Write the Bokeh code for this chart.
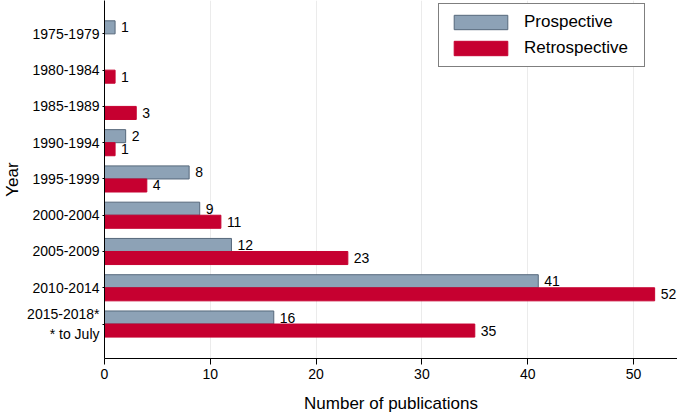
from bokeh.plotting import figure
from bokeh.models import (ColumnDataSource, Range1d, FixedTicker, LabelSet,
                          Legend, LegendItem)
from bokeh.core.properties import value
from bokeh.embed import file_html
from bokeh.resources import INLINE

# ---- data ----
periods = ["1975-1979", "1980-1984", "1985-1989", "1990-1994", "1995-1999",
           "2000-2004", "2005-2009", "2010-2014", "2015-2018*\n* to July"]
prospective = [1, 0, 0, 2, 8, 9, 12, 41, 16]
retrospective = [0, 1, 3, 1, 4, 11, 23, 52, 35]
x_ticks = [0, 10, 20, 30, 40, 50]

FONT = "Liberation Sans"
GRAY = "#8da2b6"
GRAY_EDGE = "#56687b"
RED = "#c60030"

pos = list(range(len(periods)))
off = 0.18
bh = 0.36

pro = dict(y=[p - off for p, v in zip(pos, prospective) if v > 0],
           x=[v for v in prospective if v > 0])
pro["t"] = [str(v) for v in pro["x"]]
ret = dict(y=[p + off for p, v in zip(pos, retrospective) if v > 0],
           x=[v for v in retrospective if v > 0])
ret["t"] = [str(v) for v in ret["x"]]
src_p = ColumnDataSource(pro)
src_r = ColumnDataSource(ret)

p = figure(width=677, height=415, output_backend="svg", toolbar_location=None,
           x_range=Range1d(0, 54.16), y_range=Range1d(8.95, -0.92),
           min_border_top=0, min_border_right=0, min_border_bottom=40,
           min_border_left=10)
p.outline_line_color = None
p.background_fill_color = "white"

r1 = p.hbar(y="y", right="x", left=0, height=bh, source=src_p,
            fill_color=GRAY, line_color=GRAY_EDGE, line_width=1)
r2 = p.hbar(y="y", right="x", left=0, height=bh, source=src_r,
            fill_color=RED, line_color=RED, line_width=1)

for src in (src_p, src_r):
    p.add_layout(LabelSet(x="x", y="y", text="t", source=src, x_offset=6,
                          text_baseline="middle", text_font=value(FONT),
                          text_font_size=value("14px"), text_color="black"))

# axes
p.xaxis.ticker = FixedTicker(ticks=x_ticks)
p.xaxis.axis_label = "Number of publications"
p.xaxis.axis_label_text_font = FONT
p.xaxis.axis_label_text_font_size = "17px"
p.xaxis.axis_label_text_font_style = "normal"
p.xaxis.axis_label_text_color = "black"
p.xaxis.axis_label_standoff = 12
p.xaxis.major_label_text_font = FONT
p.xaxis.major_label_text_font_size = "14px"
p.xaxis.major_label_text_color = "black"
p.xaxis.major_label_standoff = 4
p.xaxis.major_tick_out = 6
p.xaxis.major_tick_in = 0
p.xaxis.minor_tick_out = 0
p.xaxis.minor_tick_in = 0
p.xaxis.axis_line_color = "black"
p.xaxis.major_tick_line_color = "black"

p.yaxis.ticker = FixedTicker(ticks=pos)
p.yaxis.major_label_overrides = {i: s for i, s in zip(pos, periods)}
p.yaxis.axis_label = "Year"
p.yaxis.axis_label_text_font = FONT
p.yaxis.axis_label_text_font_size = "17px"
p.yaxis.axis_label_text_font_style = "normal"
p.yaxis.axis_label_text_color = "black"
p.yaxis.axis_label_standoff = 2
p.yaxis.major_label_text_font = FONT
p.yaxis.major_label_text_font_size = "14px"
p.yaxis.major_label_text_color = "black"
p.yaxis.major_label_standoff = 3
p.yaxis.major_tick_out = 2
p.yaxis.major_tick_in = 0
p.yaxis.minor_tick_out = 0
p.yaxis.minor_tick_in = 0
p.yaxis.axis_line_color = "black"

p.xgrid.grid_line_color = "#ebebeb"
p.xgrid.grid_line_width = 1
p.ygrid.grid_line_color = None

legend = Legend(items=[LegendItem(label="Prospective", renderers=[r1]),
                       LegendItem(label="Retrospective", renderers=[r2])],
                location=(334, 291), glyph_width=67, glyph_height=18,
                label_standoff=10, padding=8, spacing=6, label_width=112,
                label_text_font=FONT, label_text_font_size="17px",
                label_text_color="black",
                border_line_color="black", border_line_width=1,
                background_fill_alpha=1.0, margin=0)
p.add_layout(legend)

open("out.html", "w").write(file_html(p, INLINE))
